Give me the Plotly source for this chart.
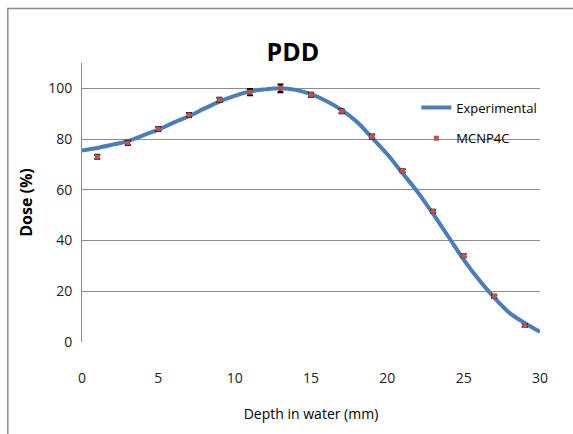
import plotly.graph_objects as go

exp_depth = list(range(0, 31))
exp_dose = [75.5, 76.5, 77.8, 79.2, 81.5, 83.7, 86.5, 89.0, 92.0, 94.8, 97.0, 98.8, 99.6, 100.0,
            99.4, 97.7, 95.0, 91.5, 86.8, 80.5, 74.0, 66.5, 59.0, 50.5, 41.5, 32.5, 24.5, 17.5,
            11.5, 7.5, 4.0]
mc_depth = [1, 3, 5, 7, 9, 11, 13, 15, 17, 19, 21, 23, 25, 27, 29]
mc_dose = [73.0, 78.5, 84.0, 89.5, 95.5, 98.5, 100.0, 97.5, 91.0, 81.0, 67.5, 51.5, 34.0, 18.0, 6.5]
mc_err = [0.8, 0.8, 0.8, 0.8, 0.8, 1.2, 1.5, 0.8, 0.8, 0.8, 0.6, 0.6, 0.6, 0.6, 0.6]

font = "Open Sans"
fig = go.Figure()
fig.add_trace(go.Scatter(x=exp_depth, y=exp_dose, mode="lines", name="Experimental",
                         line=dict(color="#4A7EBB", width=4, shape="spline"), legend="legend"))
fig.add_trace(go.Scatter(x=mc_depth, y=mc_dose, mode="markers", name="MCNP4C",
                         marker=dict(symbol="square", size=5, color="#C0504D"),
                         error_y=dict(type="data", array=mc_err, color="black", thickness=2, width=3),
                         legend="legend2"))

fig.update_layout(
    width=573, height=434,
    margin=dict(l=82, r=33, t=63, b=92),
    paper_bgcolor="white", plot_bgcolor="white",
    title=dict(text="<b>PDD</b>", x=0.511, xanchor="center", y=0.88, yanchor="middle",
               font=dict(family=font, size=25, color="black")),
    xaxis=dict(range=[0, 30], tickvals=[0, 5, 10, 15, 20, 25, 30], showgrid=False,
               zeroline=False, showline=False, ticks="", ticklabelstandoff=26,
               tickfont=dict(family=font, size=14, color="#222"),
               title=dict(text="Depth in water (mm)", standoff=23,
                          font=dict(family=font, size=14, color="black"))),
    yaxis=dict(range=[0, 110], tickvals=[0, 20, 40, 60, 80, 100], showgrid=True,
               gridcolor="#8c8c8c", gridwidth=1, zeroline=False, showline=True,
               linecolor="#8c8c8c", linewidth=1, ticks="", ticklabelstandoff=6,
               tickfont=dict(family=font, size=14, color="#222"),
               title=dict(text="<b>Dose (%)</b>", standoff=11,
                          font=dict(family=font, size=16, color="black"))),
    legend=dict(x=0.73, y=0.84, xanchor="left", yanchor="middle", bgcolor="rgba(0,0,0,0)",
                font=dict(family=font, size=13, color="black"), itemwidth=30),
    legend2=dict(x=0.73, y=0.73, xanchor="left", yanchor="middle", bgcolor="rgba(0,0,0,0)",
                 font=dict(family=font, size=13, color="black"), itemwidth=30),
    showlegend=True,
)
fig.add_shape(type="rect", xref="paper", yref="paper", x0=-0.162, x1=1.2, y0=-0.5, y1=1.195,
              line=dict(color="#8c8c8c", width=1.5), fillcolor="rgba(0,0,0,0)", layer="below")
fig.write_html("out.html")
